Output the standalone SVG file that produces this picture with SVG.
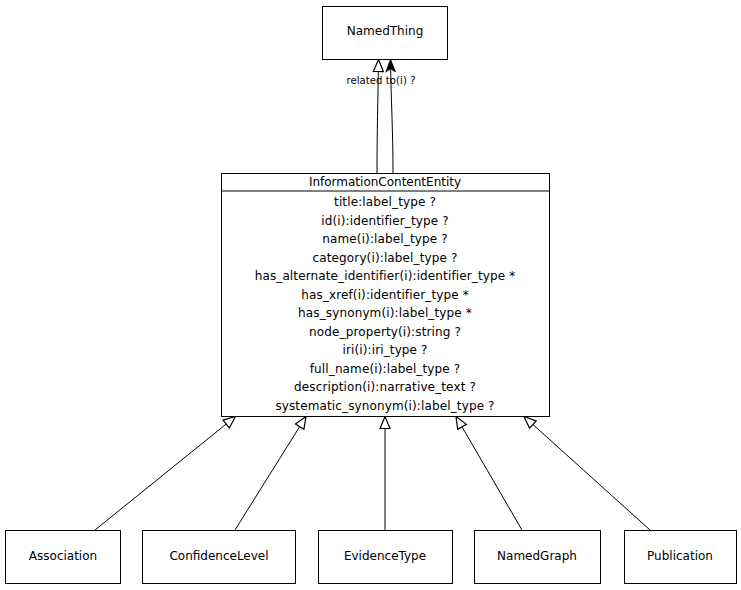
<svg xmlns="http://www.w3.org/2000/svg" width="741" height="590" viewBox="0 0 741 590">
<style>
.box{fill:#fff;stroke:#000;stroke-width:1}
.t{font-family:"DejaVu Sans",sans-serif;font-size:12px;fill:#000;text-anchor:middle}
.a{letter-spacing:0.13px}
.s{font-family:"DejaVu Sans",sans-serif;font-size:10px;fill:#000;text-anchor:middle;letter-spacing:0.1px}
.e{fill:none;stroke:#000;stroke-width:1}
.inh{marker-end:url(#hollow)}
.assoc{marker-end:url(#vee)}
</style>
<defs>
<marker id="hollow" markerUnits="userSpaceOnUse" markerWidth="14" markerHeight="12" refX="13" refY="6" orient="auto" viewBox="0 0 14 12">
<path d="M1,1 L13,6 L1,11 Z" fill="#fff" stroke="#000" stroke-width="1.2"/>
</marker>
<marker id="vee" markerUnits="userSpaceOnUse" markerWidth="14" markerHeight="12" refX="13" refY="6" orient="auto" viewBox="0 0 14 12">
<path d="M1,1.5 L13,6 L1,10.5 L4,6 Z" fill="#000" stroke="#000" stroke-width="1"/>
</marker>
</defs>
<rect width="741" height="590" fill="#fff"/>
<g id="connectors">
<path class="e inh" d="M377,173 C377,130 378,100 378.5,59.5"/>
<path class="e assoc" d="M393,173 C393,130 391,100 390.5,59.5"/>
<text class="s" x="381" y="84">related to(i) ?</text>
<path class="e inh" d="M95,530 L235.5,416.5"/>
<path class="e inh" d="M235,530 L306,416.5"/>
<path class="e inh" d="M385,530 L385,416.5"/>
<path class="e inh" d="M522,530 L456,416.5"/>
<path class="e inh" d="M650,530 L524,416.5"/>
</g>
<g id="NamedThing">
<rect class="box" x="322.5" y="6.5" width="125" height="53"/>
<text class="t" x="385" y="35">NamedThing</text>
</g>
<g id="InformationContentEntity">
<rect class="box" x="221.5" y="173.5" width="328" height="243"/>
<line class="e" x1="221.5" y1="191" x2="549.5" y2="191"/>
<text class="t" x="385" y="186">InformationContentEntity</text>
<g class="a">
<text class="t" x="385" y="206">title:label_type ?</text>
<text class="t" x="385" y="224.5">id(i):identifier_type ?</text>
<text class="t" x="385" y="243">name(i):label_type ?</text>
<text class="t" x="385" y="261.5">category(i):label_type ?</text>
<text class="t" x="385" y="280">has_alternate_identifier(i):identifier_type *</text>
<text class="t" x="385" y="298.5">has_xref(i):identifier_type *</text>
<text class="t" x="385" y="317">has_synonym(i):label_type *</text>
<text class="t" x="385" y="335.5">node_property(i):string ?</text>
<text class="t" x="385" y="354">iri(i):iri_type ?</text>
<text class="t" x="385" y="372.5">full_name(i):label_type ?</text>
<text class="t" x="385" y="391">description(i):narrative_text ?</text>
<text class="t" x="385" y="409.5">systematic_synonym(i):label_type ?</text>
</g>
</g>
<g id="Association">
<rect class="box" x="5.5" y="530.5" width="115" height="53"/>
<text class="t" x="63" y="560">Association</text>
</g>
<g id="ConfidenceLevel">
<rect class="box" x="142.5" y="530.5" width="153" height="53"/>
<text class="t" x="219" y="560">ConfidenceLevel</text>
</g>
<g id="EvidenceType">
<rect class="box" x="318.5" y="530.5" width="134" height="53"/>
<text class="t" x="385" y="560">EvidenceType</text>
</g>
<g id="NamedGraph">
<rect class="box" x="474.5" y="530.5" width="126" height="53"/>
<text class="t" x="537" y="560">NamedGraph</text>
</g>
<g id="Publication">
<rect class="box" x="624.5" y="530.5" width="112" height="53"/>
<text class="t" x="680" y="560">Publication</text>
</g>
</svg>
